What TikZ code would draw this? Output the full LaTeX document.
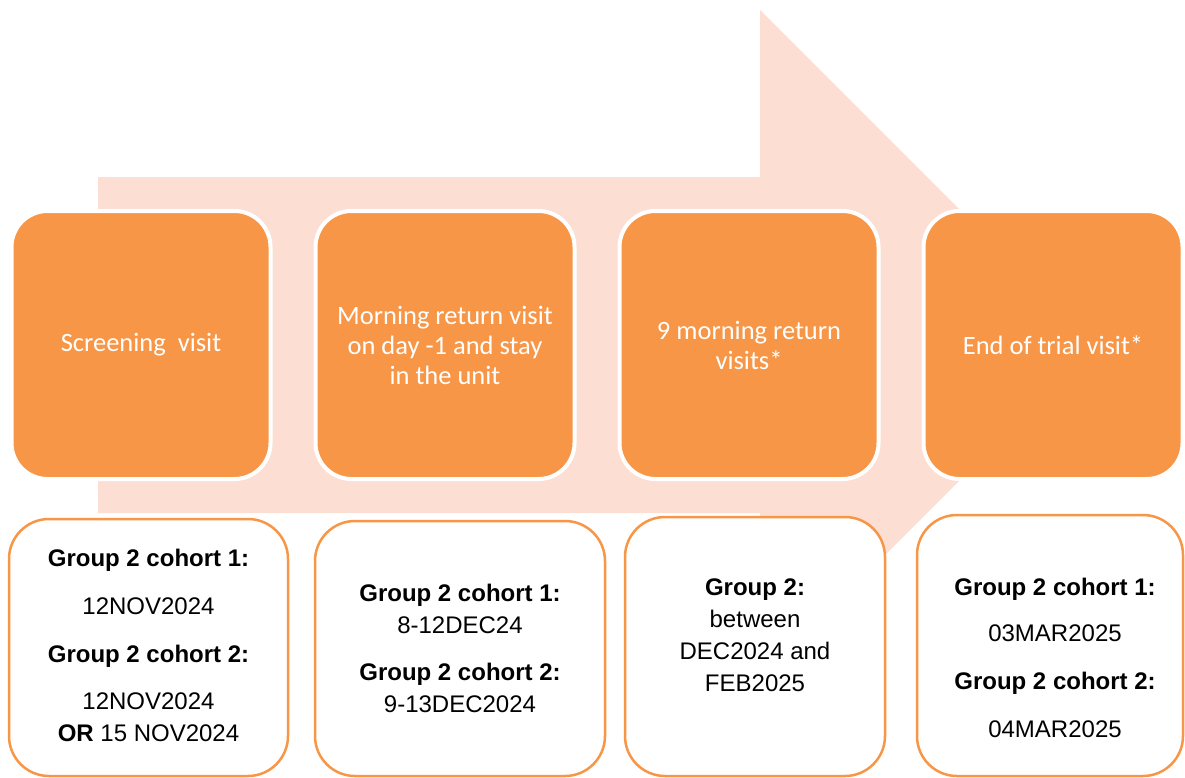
\documentclass[tikz,border=0pt]{standalone}
\usepackage{fontspec}
\newfontfamily\calfont{Carlito}
\newfontfamily\arialfont{Liberation Sans}
\usepackage{tikz}
\usetikzlibrary{positioning}
\definecolor{VisitOrange}{HTML}{F79646}
\definecolor{ArrowPeach}{HTML}{FCDED2}
\tikzset{
  % Box styles
  visitbox/.style={rectangle, rounded corners=36pt, draw=white, line width=4pt, fill=VisitOrange, minimum width=259pt, minimum height=268pt, inner sep=0pt, text=white, align=center, font=\calfont\fontsize{26.5}{30}\selectfont},
  datebox/.style={rectangle, rounded corners=40pt, draw=VisitOrange, line width=2.5pt, fill=white, inner sep=0pt},
  % Text styles
  datetext/.style={text=black, align=center, font=\arialfont\fontsize{24}{32}\selectfont}
}

\begin{document}
\begin{tikzpicture}[x=1pt, y=-1pt]
  \useasboundingbox (0,0) rectangle (1185,777);

  % Big background arrow
  \fill[ArrowPeach] (98,177) -- (760,177) -- (760,10) -- (1095,345) -- (760,680) -- (760,513) -- (98,513) -- cycle;

  % Visit boxes
  \node[visitbox] (screen) at (141,345) {Screening~ visit};
  \node[visitbox, right=41pt of screen] (dayminus) {Morning return visit\\on day -1 and stay\\in the unit};
  \node[visitbox, right=41pt of dayminus] (returns) {9 morning return\\visits*};
  \node[visitbox, right=41pt of returns] (endtrial) {End of trial visit*};

  % Date boxes
  \node[datebox, minimum width=279pt, minimum height=257pt] (screendate) at (148.5,647.5) {};
  \node[datebox, minimum width=290pt, minimum height=255pt] (dayminusdate) at (460,648.5) {};
  \node[datebox, minimum width=260pt, minimum height=259pt] (returnsdate) at (755,646.5) {};
  \node[datebox, minimum width=266pt, minimum height=261pt] (endtrialdate) at (1050,645.5) {};

  % Dates
  \node[datetext] (screentext) at (148.5,645) {\textbf{Group 2 cohort 1:}\\[16pt]12NOV2024\\[16pt]\textbf{Group 2 cohort 2:}\\[15pt]12NOV2024\\\textbf{OR} 15 NOV2024};
  \node[datetext] (dayminustext) at (460,648) {\textbf{Group 2 cohort 1:}\\8-12DEC24\\[15pt]\textbf{Group 2 cohort 2:}\\9-13DEC2024};
  \node[datetext] (returnstext) at (755,635) {\textbf{Group 2:}\\between\\DEC2024 and\\FEB2025};
  \node[datetext] (endtrialtext) at (1055,658) {\textbf{Group 2 cohort 1:}\\[14pt]03MAR2025\\[16pt]\textbf{Group 2 cohort 2:}\\[16pt]04MAR2025};
\end{tikzpicture}
\end{document}
